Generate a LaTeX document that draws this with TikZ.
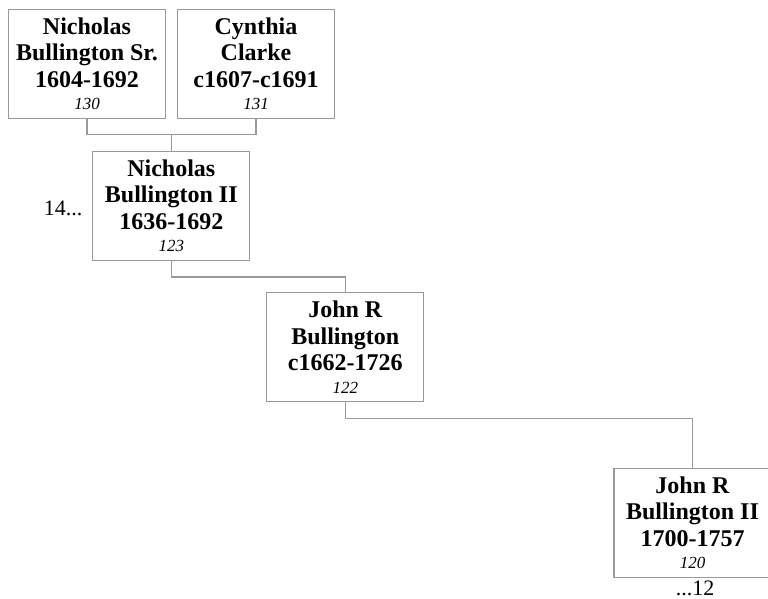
\documentclass[tikz,border=0pt]{standalone}
\usepackage{fontspec}
\setmainfont{Liberation Serif}
\usepackage{xcolor}
\usetikzlibrary{calc}
\definecolor{frame}{HTML}{9A9A9A}
\tikzset{
  person/.style={draw=frame, line width=1.3pt, fill=white, inner sep=0pt,
    minimum width=157pt, minimum height=109pt, align=center,
    font=\fontsize{24}{26.5}\selectfont\bfseries},
  link/.style={draw=frame, line width=1.3pt},
  more/.style={font=\fontsize{22}{26}\selectfont}
}
\newcommand{\ahnen}[4]{#1\\#2\\#3\\[-4pt]{\fontsize{17}{19}\selectfont\mdseries\itshape #4}}

\begin{document}
\begin{tikzpicture}[x=1pt,y=-1pt]
  \useasboundingbox (0,0) rectangle (768,599);

  \node[person] (p130) at (87,64) {\ahnen{Nicholas}{Bullington Sr.}{1604-1692}{130}};
  \node[person] (p131) at (256,64) {\ahnen{Cynthia}{Clarke}{c1607-c1691}{131}};
  \node[person] (p123) at (171.3,206) {\ahnen{Nicholas}{Bullington II}{1636-1692}{123}};
  \node[person] (p122) at (345.3,347) {\ahnen{John R}{Bullington}{c1662-1726}{122}};
  \node[person] (p120) at (692.5,522.7) {\ahnen{John R}{Bullington II}{1700-1757}{120}};

  % parents of 123
  \coordinate (fam123) at ($(p130.south)+(0,15.7)$);
  \draw[link] (p130.south) -- (fam123) -| (p131.south);
  \draw[link] (p123.north) -- (p123.north |- fam123);

  % line of descent
  \draw[link] (p123.south) -- ++(0,15.7) -| (p122.north);
  \draw[link] (p122.south) -- ++(0,16) -| (p120.north);

  \node[more, anchor=base east] (to14) at (86,215) {14...};
  \node[more, anchor=base] (to12) at (695,595) {...12};
\end{tikzpicture}
\end{document}
